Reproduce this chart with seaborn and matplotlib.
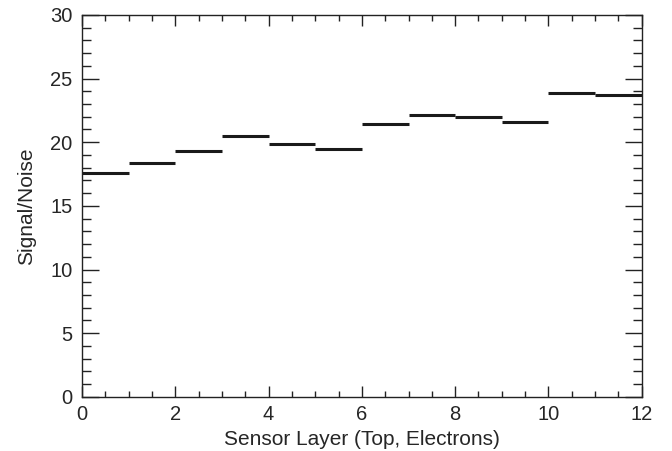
import numpy as np
import pandas as pd
import matplotlib
matplotlib.use('Agg')
import matplotlib.pyplot as plt
import seaborn as sns
from matplotlib.ticker import MultipleLocator

# Signal/Noise per sensor layer (top, electrons), one bin per layer
layer_edges = list(range(0, 13))
signal_noise = [17.6, 18.4, 19.3, 20.5, 19.85, 19.5, 21.4, 22.1, 22.0, 21.6, 23.85, 23.7]

# one row per bin end, so every bin is its own flat segment
rows = []
for i, v in enumerate(signal_noise):
    rows.append({'layer': layer_edges[i], 'sn': v, 'bin': i})
    rows.append({'layer': layer_edges[i + 1], 'sn': v, 'bin': i})
df = pd.DataFrame(rows)

sns.set_theme(style='ticks')
plt.rcParams['font.family'] = ['Liberation Sans', 'DejaVu Sans']

fig = plt.figure(figsize=(6.72, 4.51), dpi=100)
ax = fig.add_axes([0.122, 0.12, 0.833, 0.847])

sns.lineplot(data=df, x='layer', y='sn', units='bin', estimator=None,
             color='#1a1a1a', linewidth=2.2, ax=ax, legend=False,
             solid_capstyle='butt')

ax.set_xlim(0, 12)
ax.set_ylim(0, 30)
ax.xaxis.set_major_locator(MultipleLocator(2))
ax.xaxis.set_minor_locator(MultipleLocator(0.5))
ax.yaxis.set_major_locator(MultipleLocator(5))
ax.yaxis.set_minor_locator(MultipleLocator(1))

for side in ['top', 'right', 'bottom', 'left']:
    ax.spines[side].set_visible(True)
    ax.spines[side].set_linewidth(1.0)
    ax.spines[side].set_color('#222222')

ax.tick_params(axis='x', which='both', direction='in', top=True, bottom=True,
               color='#222222', width=1.0)
ax.tick_params(axis='y', which='both', direction='in', left=True, right=True,
               color='#222222', width=1.0)
ax.tick_params(axis='x', which='major', length=8, pad=6, labelsize=14.5)
ax.tick_params(axis='x', which='minor', length=4)
ax.tick_params(axis='y', which='major', length=12.5, pad=7, labelsize=14.5)
ax.tick_params(axis='y', which='minor', length=6.5)

ax.set_xlabel('Sensor Layer (Top, Electrons)', fontsize=15, labelpad=4)
ax.set_ylabel('Signal/Noise', fontsize=15, labelpad=10)

fig.savefig('out.png', dpi=100)
